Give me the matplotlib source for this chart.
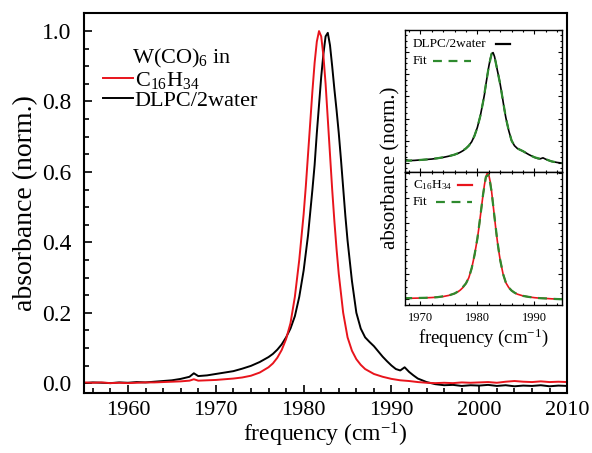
import matplotlib
matplotlib.use("Agg")
import matplotlib.pyplot as plt
from matplotlib.ticker import MultipleLocator, NullFormatter

plt.rcParams['font.family'] = ['Liberation Serif', 'DejaVu Serif']
plt.rcParams['mathtext.fontset'] = 'custom'
plt.rcParams['mathtext.rm'] = 'Liberation Serif'
plt.rcParams['mathtext.it'] = 'Liberation Serif:italic'

# --- data ---
c16_freq = [1955, 1956, 1957, 1958, 1959, 1960, 1961, 1962, 1963, 1964, 1965, 1966,
            1967, 1967.5, 1968, 1969, 1970, 1971, 1972, 1973, 1974, 1975, 1976, 1976.5,
            1977, 1977.5, 1978, 1978.5, 1979, 1979.5, 1980, 1980.25, 1980.5, 1980.75,
            1981, 1981.25, 1981.5, 1981.75, 1982, 1982.25, 1982.5, 1982.75, 1983,
            1983.25, 1983.5, 1983.75, 1984, 1984.5, 1985, 1985.5, 1986, 1986.5, 1987,
            1988, 1989, 1990, 1991, 1992, 1993, 1994, 1995, 1996, 1997, 1998, 1999,
            2000, 2001, 2002, 2003, 2004, 2005, 2006, 2007, 2008, 2009, 2010]
c16_abs = [0.002, 0.001, 0.002, 0.000, 0.001, 0.000, 0.001, 0.002, 0.002, 0.003, 0.004, 0.005,
           0.007, 0.011, 0.007, 0.008, 0.009, 0.011, 0.013, 0.016, 0.021, 0.030, 0.045, 0.056,
           0.072, 0.094, 0.125, 0.170, 0.245, 0.350, 0.480, 0.560, 0.650, 0.740,
           0.830, 0.910, 0.970, 1.000, 0.985, 0.930, 0.850, 0.750, 0.650,
           0.550, 0.460, 0.380, 0.310, 0.200, 0.130, 0.092, 0.068, 0.052, 0.040,
           0.026, 0.018, 0.012, 0.008, 0.006, 0.003, 0.001, 0.000, 0.001, 0.000, 0.002, 0.001,
           0.002, 0.003, 0.001, 0.004, 0.006, 0.004, 0.003, 0.005, 0.003, 0.004, 0.003]

dlpc_freq = [1955, 1956, 1957, 1958, 1959, 1960, 1961, 1962, 1963, 1964, 1965, 1966,
             1967, 1967.5, 1968, 1969, 1970, 1971, 1972, 1973, 1974, 1975, 1976, 1976.5,
             1977, 1977.5, 1978, 1978.5, 1979, 1979.5, 1980, 1980.5, 1981, 1981.25,
             1981.5, 1981.75, 1982, 1982.25, 1982.5, 1982.75, 1983, 1983.25, 1983.5,
             1983.75, 1984, 1984.25, 1984.5, 1984.75, 1985, 1985.5, 1986, 1986.5, 1987,
             1987.5, 1988, 1988.5, 1989, 1989.5, 1990, 1990.5, 1991, 1991.5, 1992,
             1992.5, 1993, 1993.5, 1994, 1995, 1996, 1997, 1998, 1999, 2000, 2001,
             2002, 2003, 2004, 2005, 2006, 2007, 2008, 2009, 2010]
dlpc_abs = [0.000, 0.002, 0.001, 0.000, 0.002, 0.001, 0.003, 0.002, 0.004, 0.006, 0.008, 0.012,
            0.018, 0.028, 0.020, 0.022, 0.026, 0.030, 0.034, 0.041, 0.049, 0.060, 0.074, 0.083,
            0.095, 0.110, 0.130, 0.155, 0.190, 0.245, 0.320, 0.420, 0.550, 0.620,
            0.710, 0.790, 0.870, 0.935, 0.985, 0.995, 0.960, 0.900, 0.835,
            0.775, 0.710, 0.635, 0.555, 0.475, 0.405, 0.290, 0.200, 0.155, 0.130,
            0.117, 0.105, 0.090, 0.075, 0.062, 0.050, 0.040, 0.036, 0.045, 0.032,
            0.022, 0.013, 0.008, 0.003, -0.003, -0.006, -0.005, -0.008, -0.006, -0.007, -0.005,
            -0.008, -0.006, -0.009, -0.007, -0.008, -0.006, -0.009, -0.007, -0.008]

fit_freq = [1967, 1969, 1971, 1973, 1975, 1976, 1977, 1978, 1978.5, 1979, 1979.5, 1980,
            1980.5, 1981, 1981.5, 1982, 1982.5, 1983, 1983.5, 1984, 1984.5, 1985,
            1985.5, 1986, 1986.5, 1987, 1988, 1989, 1990, 1991, 1992, 1993, 1994, 1995]
fit_c16 = [0.008, 0.009, 0.011, 0.016, 0.030, 0.045, 0.072, 0.125, 0.170, 0.245, 0.350, 0.480,
           0.650, 0.830, 0.970, 0.985, 0.850, 0.650, 0.460, 0.310, 0.200, 0.130,
           0.092, 0.068, 0.052, 0.040, 0.026, 0.018, 0.012, 0.008, 0.006, 0.003, 0.001, 0.000]
fit_dlpc = [0.018, 0.022, 0.030, 0.041, 0.060, 0.074, 0.095, 0.130, 0.155, 0.190, 0.245, 0.320,
            0.420, 0.550, 0.710, 0.870, 0.985, 0.960, 0.835, 0.710, 0.555, 0.405,
            0.290, 0.200, 0.155, 0.130, 0.105, 0.075, 0.050, 0.036, 0.032, 0.013, 0.003, -0.003]

red = '#e8141c'
green = '#2e8a2e'
dash = (0, (4, 3))

fig = plt.figure(figsize=(5.92, 4.53), dpi=100)

# --- main panel ---
ax = fig.add_axes([0.142, 0.1325, 0.816, 0.8385])
ax.plot(dlpc_freq, dlpc_abs, color='black', lw=1.4, label='DLPC/2water')
ax.plot(c16_freq, c16_abs, color=red, lw=1.4, label='C$_{16}$H$_{34}$')
ax.set_xlim(1955, 2010)
ax.set_ylim(-0.028, 1.051)
ax.xaxis.set_major_locator(MultipleLocator(10))
ax.xaxis.set_minor_locator(MultipleLocator(2))
ax.yaxis.set_major_locator(MultipleLocator(0.2))
ax.yaxis.set_minor_locator(MultipleLocator(0.05))
ax.yaxis.set_major_formatter(plt.FormatStrFormatter('%.1f'))
ax.tick_params(which='both', direction='in', top=False, right=False, labelsize=16, width=1.2)
ax.tick_params(which='major', length=6, pad=6)
ax.tick_params(which='minor', length=3.5)
ax.tick_params(axis='y', pad=9, labelsize=17)
for s in ax.spines.values():
    s.set_linewidth(1.5)
ax.set_xlabel('frequency (cm$^{-1}$)', fontsize=17, labelpad=0)
ax.set_ylabel('absorbance (norm.)', fontsize=20, labelpad=3)

handles, labels = ax.get_legend_handles_labels()
ax.legend(handles[::-1], labels[::-1], loc='upper left', bbox_to_anchor=(0.02, 0.875),
          frameon=False, fontsize=16, handlelength=1.35, handletextpad=0.1,
          labelspacing=0.0, borderaxespad=0)
ax.text(0.1, 0.85, 'W(CO)$_6$ in', transform=ax.transAxes, fontsize=16,
        ha='left', va='bottom')

# --- inset panels ---
ax_top = fig.add_axes([0.684, 0.621, 0.265, 0.313])
ax_bot = fig.add_axes([0.684, 0.327, 0.265, 0.294], sharex=ax_top)

ax_top.plot(dlpc_freq, dlpc_abs, color='black', lw=1.2)
ax_top.plot(fit_freq, fit_dlpc, color=green, lw=1.6, ls=dash)
ax_top.set_ylim(-0.08, 1.2)

ax_bot.plot(c16_freq, c16_abs, color=red, lw=1.2)
ax_bot.plot(fit_freq, fit_c16, color=green, lw=1.6, ls=dash)
ax_bot.set_ylim(-0.045, 1.01)

ax_top.set_xlim(1967.3, 1994.8)
for a in (ax_top, ax_bot):
    a.xaxis.set_major_locator(MultipleLocator(10))
    a.xaxis.set_minor_locator(MultipleLocator(2))
    a.yaxis.set_major_locator(MultipleLocator(0.2))
    a.yaxis.set_minor_locator(MultipleLocator(0.05))
    a.yaxis.set_major_formatter(NullFormatter())
    a.tick_params(which='both', direction='in', top=True, right=True, labelsize=9, width=0.8)
    a.tick_params(which='major', length=3, pad=5)
    a.tick_params(which='minor', length=1.5)
    for s in a.spines.values():
        s.set_linewidth(1.0)
ax_top.tick_params(labelbottom=False)

# inset legend keys: text first, line after
ax_top.text(0.05, 0.90, 'DLPC/2water', transform=ax_top.transAxes, fontsize=9.5,
            ha='left', va='center')
ax_top.plot([0.58, 0.67], [0.90, 0.90], transform=ax_top.transAxes, color='black', lw=1.6)
ax_top.text(0.05, 0.78, 'Fit', transform=ax_top.transAxes, fontsize=9.5,
            ha='left', va='center')
ax_top.plot([0.18, 0.42], [0.78, 0.78], transform=ax_top.transAxes, color=green,
            lw=1.6, ls=dash)
ax_bot.text(0.05, 0.90, 'C$_{16}$H$_{34}$', transform=ax_bot.transAxes, fontsize=9.5,
            ha='left', va='center')
ax_bot.plot([0.34, 0.43], [0.90, 0.90], transform=ax_bot.transAxes, color=red, lw=1.6)
ax_bot.text(0.05, 0.77, 'Fit', transform=ax_bot.transAxes, fontsize=9.5,
            ha='left', va='center')
ax_bot.plot([0.2, 0.43], [0.77, 0.77], transform=ax_bot.transAxes, color=green,
            lw=1.6, ls=dash)

ax_bot.set_xlabel('frequency (cm$^{-1}$)', fontsize=13.5, labelpad=2)
fig.text(0.66, 0.63, 'absorbance (norm.)', rotation=90, fontsize=15,
         ha='center', va='center')

fig.savefig('out.png', dpi=100)
